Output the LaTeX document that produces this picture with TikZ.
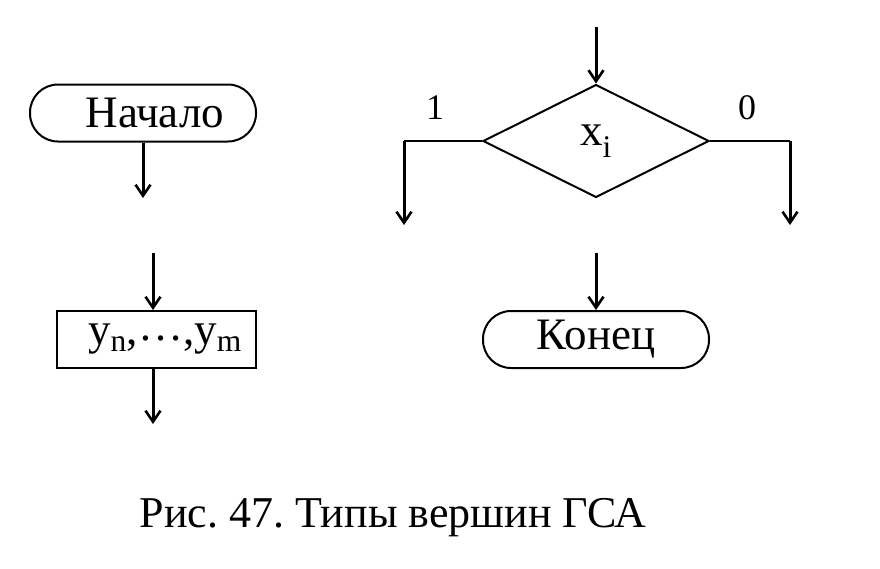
\documentclass[tikz,border=0pt]{standalone}
\usepackage{fontspec}
\setmainfont{Liberation Serif}
\usetikzlibrary{arrows.meta,shapes.geometric}

\tikzset{
  flow/.style={line width=3pt, -{Straight Barb[length=11pt,width=15pt,line width=2.6pt]}},
  term/.style={draw, rounded corners=28pt, minimum width=226pt, minimum height=57pt, inner sep=0pt},
  oper/.style={draw, minimum width=199pt, minimum height=57pt, inner sep=0pt},
  cond/.style={draw, diamond, minimum width=226pt, minimum height=113pt, inner sep=0pt},
}

\begin{document}
\frenchspacing
\begin{tikzpicture}[x=1pt, y=-1pt, line width=2pt,
    every node/.append style={font=\fontsize{45}{52}\selectfont}]
  \useasboundingbox (0,0) rectangle (880,568);

  % Start vertex
  \node[term] (start) at (143,113) {\hspace{24pt}Начало};
  \coordinate (startout) at (143,198);
  \draw[flow] (start.south) -- (startout);

  % Operator vertex
  \node[oper] (act) at (156.5,339.5) {\hspace{17pt}y\textsubscript{n},\raisebox{0.22ex}{…},y\textsubscript{m}};
  \coordinate (actin) at (153,253);
  \coordinate (actout) at (153,424);
  \draw[flow] (actin) -- (actin |- act.north);
  \draw[flow] (actin |- act.south) -- (actout);

  % Conditional vertex
  \node[cond] (cond) at (596,141) {x\textsubscript{i}};
  \coordinate (condin) at (596,27);
  \coordinate (yes) at (404,225);
  \coordinate (no) at (790,225);
  \draw[flow] (condin) -- (cond.north);
  \draw (cond.west) -- (yes |- cond.west);
  \draw (cond.east) -- (no |- cond.east);
  \draw[flow] (yes |- cond.west) -- (yes);
  \draw[flow] (no |- cond.east) -- (no);
  \node[font=\fontsize{36}{42}\selectfont] (one) at (435,108) {1};
  \node[font=\fontsize{36}{42}\selectfont] (zero) at (747,108) {0};

  % End vertex
  \node[term] (stop) at (596,339.5) {Конец};
  \coordinate (stopin) at (596,253);
  \draw[flow] (stopin) -- (stop.north);

  % Caption
  \node[font=\fontsize{44}{52}\selectfont] (caption) at (393,518) {Рис. 47. Типы вершин ГСА};
\end{tikzpicture}
\end{document}
